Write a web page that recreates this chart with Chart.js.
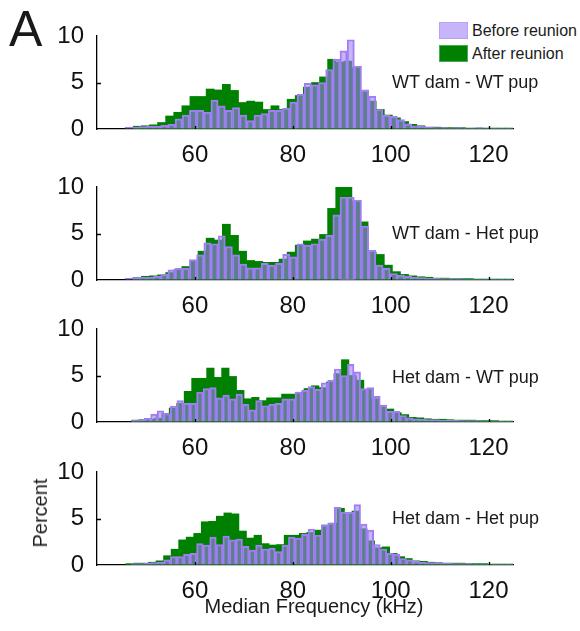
<!DOCTYPE html>
<html>
<head>
<meta charset="utf-8">
<script src="https://cdn.jsdelivr.net/npm/chart.js@4.4.1/dist/chart.umd.min.js"></script>
<style>
  html, body { margin: 0; padding: 0; background: #fff; }
  body { width: 580px; height: 631px; position: relative; overflow: hidden;
         font-family: 'Liberation Sans', Arial, sans-serif; color: #1a1a1a; }
  canvas { position: absolute; left: 0; }
  .txt { position: absolute; white-space: nowrap; line-height: 1; }
  .swatch { position: absolute; width: 27px; height: 15px; }
</style>
</head>
<body>
<div class="txt" style="left:9px;top:4px;font-size:50px;">A</div>

<div class="swatch" style="left:439px;top:22px;background:#c8b4f8;border:1px solid #b9a2f3;"></div>
<div class="txt" style="left:472px;top:23px;font-size:16px;">Before reunion</div>
<div class="swatch" style="left:439px;top:45px;background:#008000;border:1px solid #4cab4c;"></div>
<div class="txt" style="left:472px;top:46px;font-size:16px;">After reunion</div>

<canvas id="p1" width="580" height="147" style="top:21px"></canvas>
<canvas id="p2" width="580" height="147" style="top:172px"></canvas>
<canvas id="p3" width="580" height="147" style="top:314px"></canvas>
<canvas id="p4" width="580" height="147" style="top:457px"></canvas>

<div class="txt" style="left:392px;top:73px;font-size:18px;">WT dam - WT pup</div>
<div class="txt" style="left:392px;top:224px;font-size:18px;">WT dam - Het pup</div>
<div class="txt" style="left:392px;top:368px;font-size:18px;">Het dam - WT pup</div>
<div class="txt" style="left:392px;top:509px;font-size:18px;">Het dam - Het pup</div>

<div class="txt" style="left:40px;top:513px;font-size:20px;transform:translate(-50%,-50%) rotate(-90deg);">Percent</div>
<div class="txt" style="left:314px;top:596px;font-size:20px;transform:translateX(-50%);">Median Frequency (kHz)</div>

<script>
// histogram bin start and width (kHz), one entry per panel
const beforeBinStart = [45.7, 45.7, 46.95, 46.95];
const beforeBinWidth = [1.465, 1.465, 1.34, 1.34];
const afterBinStart = [47.4, 47.4, 47.1, 45.9];
const afterBinWidth = [1.655, 1.655, 1.53, 1.54];

const xTicks = [60, 80, 100, 120];
const yTicks = [0, 5, 10];

// percent per bin, "Before reunion"
const wtWtBefore = [0.2,0.2,0.25,0.3,0.3,0.4,0.5,1.1,1.5,2.0, 2.0,1.8,3.1,2.5,2.0,2.3,1.5,0.9,1.5,1.65,
  2.0,2.0,2.25,2.9,3.75,4.9,4.75,5.0,6.4,7.5, 8.4,9.6,6.75,4.2,3.5,2.1,1.5,1.35,1.0,0.55,
  0.35,0.3,0.2,0.15,0.15,0.1,0.15,0.1,0.1,0.15, 0.1,0.1,0.1,0.1,0.1];
const wtHetBefore = [0.2,0.25,0.3,0.3,0.4,0.6,1.1,1.25,1.25,2.2, 2.7,4.0,3.9,4.75,3.6,2.7,1.7,1.3,1.3,1.8,
  1.6,1.8,2.75,2.5,3.9,3.75,3.9,4.4,4.8,7.0, 8.9,8.9,8.6,5.8,3.2,1.6,1.25,0.7,0.5,0.4,
  0.3,0.25,0.2,0.2,0.15,0.15,0.15,0.1,0.1,0.1, 0.1,0.1,0.1,0.1,0.1];
const hetWtBefore = [0.2,0.25,0.4,0.85,1.2,0.9,1.7,2.3,2.0,2.0, 3.2,3.6,3.7,2.6,2.9,2.5,3.0,1.9,1.3,2.3,
  1.75,1.9,2.0,2.5,2.5,3.2,3.4,3.8,3.5,4.2, 4.5,5.7,5.0,6.2,5.4,3.6,3.7,2.75,1.8,1.15,
  1.15,0.7,0.45,0.35,0.3,0.25,0.25,0.2,0.2,0.2, 0.15,0.15,0.15,0.1,0.1,0.1,0.1,0.1,0.1];
const hetHetBefore = [0.15,0.15,0.2,0.25,0.3,0.55,0.9,0.9,1.15,1.25, 2.3,2.15,3.0,2.2,3.1,2.7,2.8,2.0,1.6,2.15,
  1.7,1.8,1.45,2.15,3.0,2.9,3.3,3.85,3.2,4.3, 4.5,6.2,5.7,5.7,6.5,4.4,3.75,2.2,1.7,1.25,
  1.15,0.7,0.55,0.4,0.3,0.25,0.25,0.2,0.2,0.15, 0.15,0.15,0.1,0.1,0.1,0.1,0.1,0.1,0.1];

// percent per bin, "After reunion"
const wtWtAfter = [0.3,0.35,0.45,0.7,1.4,1.8,2.5,3.5,3.5,4.3, 4.2,4.8,4.15,2.85,3.0,2.9,2.1,2.5,2.1,3.2,
  3.6,4.5,5.0,5.6,7.5,7.2,7.3,6.6,4.0,3.0, 2.1,1.5,1.2,0.8,0.5,0.35,0.2,0.2,0.15,0.15,
  0.15,0.1,0.1,0.1,0.1,0.1,0.1];
const wtHetAfter = [0.25,0.4,0.45,0.55,0.8,1.1,1.45,2.0,3.1,4.5, 4.3,6.0,4.8,3.1,2.1,2.0,1.9,1.9,2.25,3.0,
  3.75,4.2,4.4,4.9,7.7,10.2,10.2,8.5,6.25,3.0, 2.75,1.6,0.9,0.6,0.45,0.35,0.3,0.2,0.2,0.15,
  0.15,0.15,0.1,0.1,0.1,0.1,0.1];
const hetWtAfter = [0.2,0.25,0.3,0.4,0.9,1.5,2.0,3.3,4.7,4.7, 5.8,4.8,5.8,4.9,3.4,2.5,2.65,2.3,2.6,2.6,
  3.0,3.0,3.2,3.6,3.9,3.7,4.3,5.2,6.7,5.0, 4.5,3.5,2.5,1.8,1.4,1.0,0.8,0.5,0.45,0.35,
  0.3,0.3,0.25,0.2,0.2,0.2,0.15,0.15,0.15,0.1, 0.1];
const hetHetAfter = [0.15,0.2,0.2,0.3,0.45,1.0,1.7,2.7,3.0,3.4, 4.65,4.7,5.25,5.6,5.5,3.65,2.9,3.2,2.3,2.15,
  2.2,3.2,3.2,3.4,3.5,3.75,4.3,4.5,6.1,5.5, 5.8,3.9,2.6,1.85,1.95,1.25,0.9,0.7,0.45,0.4,
  0.3,0.25,0.2,0.2,0.2,0.15,0.15,0.15,0.1,0.1, 0.1,0.1];

const fontFamily = "'Liberation Sans', Arial, sans-serif";
const purpleEdge = '#a07ef3';
const purpleFill = 'rgba(160,126,243,0.58)';
const green = '#008000';

function toPoints(values, start, width) {
    return values.map(function (v, i) {
        return { x: start + (i + 0.5) * width, y: v };
    });
}

// small tick marks pointing into the plot
const inwardTicks = {
    id: 'inwardTicks',
    afterDraw: function (chart) {
        const ctx = chart.ctx;
        const xs = chart.scales.x;
        const ys = chart.scales.y;
        const area = chart.chartArea;
        ctx.save();
        ctx.strokeStyle = '#000';
        ctx.lineWidth = 1.3;
        ctx.beginPath();
        xTicks.forEach(function (v) {
            const px = Math.round(xs.getPixelForValue(v)) + 0.5;
            ctx.moveTo(px, area.bottom);
            ctx.lineTo(px, area.bottom - 3);
        });
        const py = Math.round(ys.getPixelForValue(5)) + 0.5;
        ctx.moveTo(area.left, py);
        ctx.lineTo(area.left + 4, py);
        ctx.stroke();
        ctx.restore();
    }
};

function makePanel(id, p, before, after) {
    const ctx = document.getElementById(id).getContext('2d');
    return new Chart(ctx, {
        type: 'bar',
        data: {
            datasets: [{
                label: 'Before reunion',
                data: toPoints(before, beforeBinStart[p], beforeBinWidth[p]),
                xAxisID: 'x',
                backgroundColor: purpleFill,
                borderColor: purpleEdge,
                borderWidth: 1.3,
                borderSkipped: 'start',
                barPercentage: 1,
                categoryPercentage: 1,
                grouped: false,
                order: 0
            }, {
                label: 'After reunion',
                data: toPoints(after, afterBinStart[p], afterBinWidth[p]),
                xAxisID: 'x2',
                backgroundColor: green,
                borderWidth: 0,
                barPercentage: 1,
                categoryPercentage: 1,
                grouped: false,
                order: 1
            }]
        },
        options: {
            responsive: false,
            animation: false,
            layout: { padding: { top: 15, right: 67, left: 0, bottom: 0 } },
            scales: {
                x: {
                    type: 'linear',
                    min: 40,
                    max: 125,
                    offset: false,
                    afterBuildTicks: function (scale) {
                        scale.ticks = xTicks.map(function (v) { return { value: v }; });
                    },
                    afterFit: function (scale) {
                        scale.height = 39;
                        scale.paddingLeft = 0;
                        scale.paddingRight = 0;
                    },
                    grid: { display: true, drawOnChartArea: false, drawTicks: false },
                    border: { color: '#000', width: 1.3 },
                    ticks: {
                        color: '#111',
                        font: { family: fontFamily, size: 24 },
                        padding: 12,
                        maxRotation: 0,
                        autoSkip: false
                    }
                },
                x2: {
                    type: 'linear',
                    min: 40,
                    max: 125,
                    offset: false,
                    display: false
                },
                y: {
                    min: 0,
                    max: 10,
                    afterBuildTicks: function (scale) {
                        scale.ticks = yTicks.map(function (v) { return { value: v }; });
                    },
                    afterFit: function (scale) {
                        scale.width = 97;
                        scale.paddingTop = 0;
                        scale.paddingBottom = 0;
                    },
                    grid: { display: true, drawOnChartArea: false, drawTicks: false },
                    border: { color: '#000', width: 1.3 },
                    ticks: {
                        color: '#111',
                        font: { family: fontFamily, size: 24 },
                        padding: 13
                    }
                }
            },
            plugins: {
                legend: { display: false },
                title: { display: false },
                tooltip: { enabled: false }
            }
        },
        plugins: [inwardTicks]
    });
}

makePanel('p1', 0, wtWtBefore, wtWtAfter);
makePanel('p2', 1, wtHetBefore, wtHetAfter);
makePanel('p3', 2, hetWtBefore, hetWtAfter);
makePanel('p4', 3, hetHetBefore, hetHetAfter);
</script>
</body>
</html>
